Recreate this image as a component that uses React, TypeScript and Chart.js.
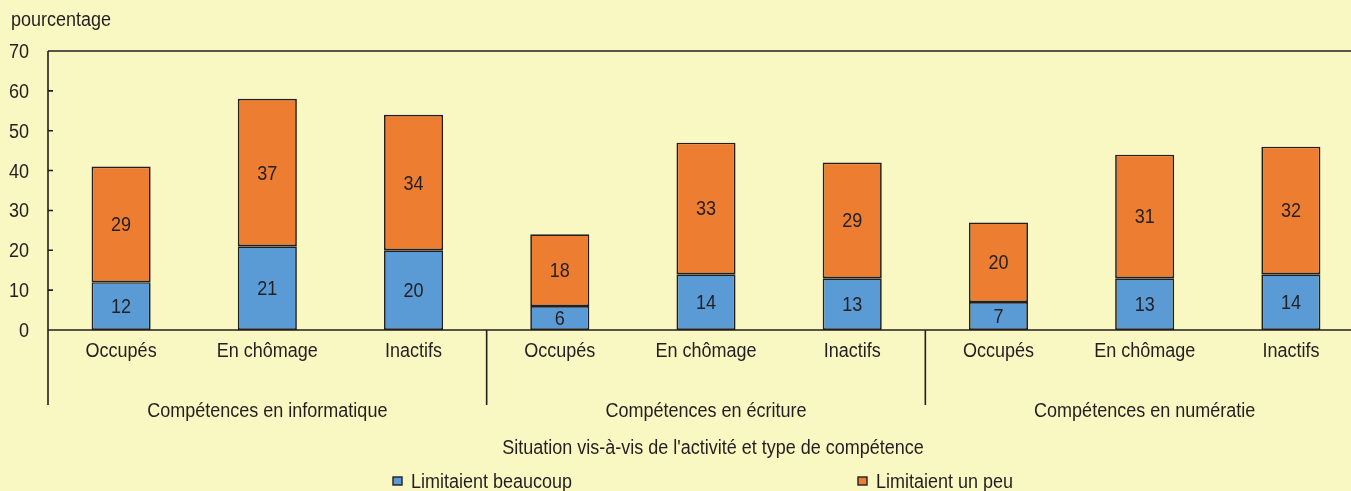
import React, { useEffect, useRef } from 'react';
import { Chart, registerables } from 'chart.js';
Chart.register(...registerables);

const categories = ['Occupés', 'En chômage', 'Inactifs', 'Occupés', 'En chômage', 'Inactifs', 'Occupés', 'En chômage', 'Inactifs'];
const groups = ['Compétences en informatique', 'Compétences en écriture', 'Compétences en numératie'];
const limitaientBeaucoup = [12, 21, 20, 6, 14, 13, 7, 13, 14];
const limitaientUnPeu = [29, 37, 34, 18, 33, 29, 20, 31, 32];
const yTicks = [0, 10, 20, 30, 40, 50, 60, 70];
const seriesNames = ['Limitaient beaucoup', 'Limitaient un peu'];
const yAxisLabel = 'pourcentage';
const xAxisTitle = "Situation vis-à-vis de l'activité et type de compétence";

const BG = '#f9f7c2';
const INK = '#231f20';
const BLUE = '#5b9bd5';
const ORANGE = '#ed7d31';
const FONT = '20px "Liberation Sans", Arial, sans-serif';
const SQUEEZE = 0.9;

function narrowText(ctx: CanvasRenderingContext2D, text: string, x: number, y: number, align: CanvasTextAlign, baseline: CanvasTextBaseline = 'alphabetic') {
  ctx.save();
  ctx.font = FONT;
  ctx.fillStyle = INK;
  ctx.textAlign = align;
  ctx.textBaseline = baseline;
  ctx.translate(x, y);
  ctx.scale(SQUEEZE, 1);
  ctx.fillText(text, 0, 0);
  ctx.restore();
}

const drawPlugin = {
  id: 'customDraw',
  afterDatasetsDraw(chart: any) {
    const ctx = chart.ctx;
    chart.data.datasets.forEach((ds: any, di: number) => {
      const meta = chart.getDatasetMeta(di);
      meta.data.forEach((el: any, i: number) => {
        const p = el.getProps(['x', 'y', 'base'], true);
        narrowText(ctx, String(ds.data[i]), p.x, (p.y + p.base) / 2 + 7, 'center');
      });
    });
  },
  afterDraw(chart: any) {
    const ctx = chart.ctx;
    const area = chart.chartArea;
    const x = chart.scales.x;
    const y = chart.scales.y;
    ctx.save();
    ctx.strokeStyle = INK;
    ctx.lineWidth = 1.6;
    const y0 = y.getPixelForValue(0);
    const yTop = y.getPixelForValue(70);
    const lineBottom = 405;
    ctx.beginPath();
    ctx.moveTo(area.left, yTop);
    ctx.lineTo(area.left, lineBottom);
    ctx.moveTo(area.left, yTop);
    ctx.lineTo(area.right + 10, yTop);
    ctx.moveTo(area.left, y0);
    ctx.lineTo(area.right + 10, y0);
    yTicks.forEach((t) => {
      const py = y.getPixelForValue(t);
      ctx.moveTo(area.left, py);
      ctx.lineTo(area.left + 5, py);
    });
    for (let g = 1; g < groups.length; g++) {
      const px = (x.getPixelForValue(g * 3 - 1) + x.getPixelForValue(g * 3)) / 2;
      ctx.moveTo(px, y0);
      ctx.lineTo(px, lineBottom);
    }
    ctx.stroke();

    yTicks.forEach((t) => {
      narrowText(ctx, String(t), 29, y.getPixelForValue(t) + 7, 'right');
    });
    narrowText(ctx, yAxisLabel, 11, 26, 'left');
    categories.forEach((c, i) => {
      narrowText(ctx, c, x.getPixelForValue(i), 357, 'center');
    });
    groups.forEach((g, gi) => {
      const px = (x.getPixelForValue(gi * 3) + x.getPixelForValue(gi * 3 + 2)) / 2;
      narrowText(ctx, g, px, 417, 'center');
    });
    narrowText(ctx, xAxisTitle, 713, 454, 'center');

    const legendX = [393, 858];
    const colors = [BLUE, ORANGE];
    seriesNames.forEach((n, i) => {
      ctx.fillStyle = colors[i];
      ctx.fillRect(legendX[i], 477, 9, 8);
      ctx.lineWidth = 1.4;
      ctx.strokeRect(legendX[i], 477, 9, 8);
      narrowText(ctx, n, legendX[i] + 18, 488, 'left');
    });
    ctx.restore();
  },
};

export default function App() {
  const ref = useRef<HTMLCanvasElement>(null);
  useEffect(() => {
    const canvas = ref.current!;
    const chart = new Chart(canvas, {
      type: 'bar',
      data: {
        labels: categories,
        datasets: [
          {
            label: seriesNames[0],
            data: limitaientBeaucoup,
            backgroundColor: BLUE,
            borderColor: INK,
            borderWidth: 1.7,
            borderSkipped: false,
          },
          {
            label: seriesNames[1],
            data: limitaientUnPeu,
            backgroundColor: ORANGE,
            borderColor: INK,
            borderWidth: 1.7,
            borderSkipped: false,
          },
        ],
      },
      options: {
        responsive: false,
        animation: false,
        devicePixelRatio: 1,
        layout: { padding: { left: 48, right: 2, top: 51, bottom: 161 } },
        datasets: { bar: { categoryPercentage: 1, barPercentage: 0.404 } },
        plugins: { legend: { display: false }, tooltip: { enabled: false } },
        scales: {
          x: { stacked: true, display: false, offset: true },
          y: { stacked: true, display: false, min: 0, max: 70 },
        },
      },
      plugins: [drawPlugin],
    });
    return () => chart.destroy();
  }, []);
  return (
    <div style={{ position: 'fixed', left: 0, top: 0, width: 1351, height: 491, overflow: 'hidden', background: BG }}>
      <canvas ref={ref} width={1366} height={491} style={{ display: 'block', width: 1366, height: 491 }} />
    </div>
  );
}
